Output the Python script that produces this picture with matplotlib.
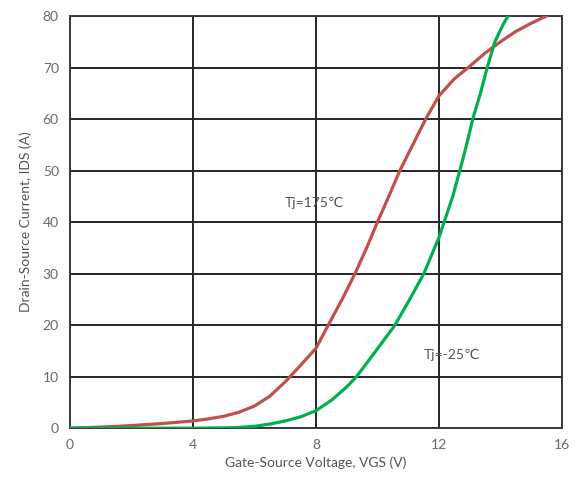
import matplotlib
matplotlib.use("Agg")
import matplotlib.pyplot as plt

plt.rcParams['font.family'] = ['Lato', 'DejaVu Sans']

# Tj = 175 C curve
vgs_hot = [0, 1, 2, 3, 4, 4.5, 5, 5.5, 6, 6.5, 7, 7.5, 8, 8.4, 8.85, 9.27, 9.65, 10.0,
           10.37, 10.73, 11.15, 11.57, 12.0, 12.5, 12.95, 13.5, 14.0, 14.5, 15.0, 15.5]
ids_hot = [0, 0.2, 0.5, 0.9, 1.4, 1.8, 2.3, 3.1, 4.3, 6.2, 9.0, 12.2, 15.5, 20, 25, 30, 35, 40,
           45, 50, 55, 60, 64.5, 67.8, 70, 72.8, 75, 77, 78.6, 80]

# Tj = -25 C curve
vgs_cold = [0, 4, 5, 5.5, 6, 6.5, 7, 7.5, 8, 8.5, 9, 9.32, 9.95, 10.57, 11.05,
            11.51, 12.0, 12.17, 12.45, 12.68, 12.9, 13.1, 13.35, 13.57, 13.82, 14.1, 14.25]
ids_cold = [0, 0, 0.05, 0.15, 0.35, 0.8, 1.4, 2.2, 3.4, 5.4, 8, 10, 15, 20, 25,
            30, 37, 40, 45, 50, 55, 60, 65, 70, 75, 78.5, 80]

x_ticks = [0, 4, 8, 12, 16]
y_ticks = [0, 10, 20, 30, 40, 50, 60, 70, 80]

fig = plt.figure(figsize=(5.76, 4.86), dpi=100)
ax = fig.add_axes([0.1215, 0.119, 0.854, 0.848])

ax.plot(vgs_hot, ids_hot, color='#c0504d', lw=2.3, zorder=3, solid_joinstyle='round')
ax.plot(vgs_cold, ids_cold, color='#00b050', lw=2.3, zorder=3, solid_joinstyle='round')

ax.set_xlim(0, 16)
ax.set_ylim(0, 80)
ax.set_xticks(x_ticks)
ax.set_yticks(y_ticks)
ax.grid(True, color='#262626', lw=1.4)
ax.set_axisbelow(True)
ax.tick_params(length=0, labelsize=10, colors='#6a6a6a', pad=8)
for s in ax.spines.values():
    s.set_color('#3a3a3a')
    s.set_linewidth(1.4)

ax.set_xlabel('Gate-Source Voltage, VGS (V)', fontsize=10, color='#555555', labelpad=4)
ax.set_ylabel('Drain-Source Current, IDS (A)', fontsize=10, color='#555555', labelpad=8)

ax.text(7.0, 43.8, 'Tj=175℃', fontsize=10, color='#555555', va='center', ha='left')
ax.text(11.5, 14.2, 'Tj=-25℃', fontsize=10, color='#555555', va='center', ha='left')

fig.savefig('out.png', dpi=100)
